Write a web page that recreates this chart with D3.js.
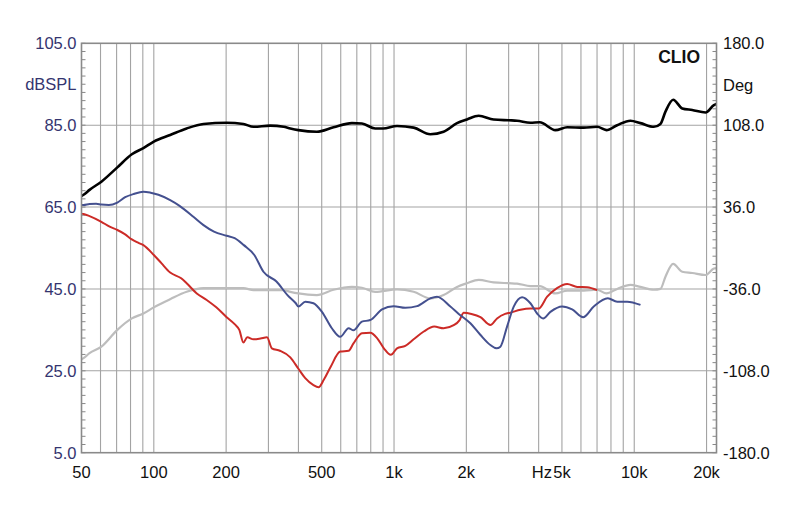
<!DOCTYPE html>
<html><head><meta charset="utf-8">
<script src="https://cdn.jsdelivr.net/npm/d3@7"></script>
<style>body{margin:0;background:#fff}svg{display:block}</style>
</head><body>
<svg id="c" width="800" height="511"></svg>
<script>
// ---- data ----
const blackHz = [50,51,54,60.5,70.5,81,90.5,100,117,137,161,201,236,260,305,347,370,400,477,560,668,735,835,900,1029,1207,1416,1608,1829,2013,2250,2598,3000,3253,3696,4040,4697,5260,6162,7010,7658,8492,9645,10616,12066,12853,13488,14520,15840,17434,19815,21456,22000];
const blackDb = [67.7,68.0,69.2,71.2,74.7,77.9,79.4,81.0,82.6,84.2,85.3,85.6,85.3,84.6,84.9,84.6,84.2,83.8,83.4,84.5,85.5,85.4,84.2,84.2,84.8,84.4,82.8,83.4,85.5,86.4,87.3,86.4,86.2,86.1,85.6,85.7,83.8,84.5,84.4,84.6,83.8,85.0,86.1,85.5,84.6,85.3,88.3,91.2,89.1,88.7,88.1,89.9,90.2];

const grayHz = [50,51,54,60.5,70.5,81,90.5,100,117,137,161,201,236,260,305,347,370,400,477,560,668,735,835,1029,1207,1416,1608,1829,2013,2250,2598,3000,3253,3696,4040,4697,5260,6162,7010,7658,8492,9645,10616,12066,12853,13488,14520,15840,17434,19815,21456,22000];
const grayDb = [27.8,28.1,29.3,30.9,35.0,37.8,39.0,40.5,42.5,44.3,45.2,45.2,45.2,44.7,44.7,44.7,44.3,43.9,43.5,44.8,45.5,45.3,44.3,44.9,44.3,42.7,43.5,45.5,46.4,47.2,46.6,46.4,46.3,45.7,45.7,43.9,44.6,44.6,44.8,43.9,45.0,46.0,45.5,44.8,45.0,48.0,51.1,49.2,48.9,48.4,50.0,50.1];

const blueHz = [50,51,54,57.5,60.5,65,70.5,76,82.5,90.5,97,104.5,117,128,147,161,178,201,217,237,262,286,324,360,390,400,427,462,501,551,597,647,678,735,796,891,996,1114,1247,1416,1510,1716,1859,2079,2286,2518,2670,2772,2955,3150,3413,3696,3940,4174,4477,5011,5514,6124,6783,7763,8492,9347,10616];
const blueDb = [65.5,65.5,65.75,65.8,65.6,65.5,66.1,67.4,68.2,68.75,68.5,68.0,66.7,65.3,62.5,60.6,59.0,58.0,57.4,55.7,53.3,49.2,46.8,43.5,41.5,40.7,41.9,41.5,39.4,35.4,33.3,35.4,34.9,37.0,37.4,40.0,40.8,40.4,40.8,42.7,43.1,40.7,38.9,36.6,33.8,31.3,30.5,30.9,35.8,40.7,43.0,41.5,39.0,37.8,39.4,40.7,40.0,38.1,40.7,42.7,41.9,41.9,41.1];

const redHz = [50,51,54,60.5,65.5,70.5,75.7,81,86,90.5,100,107.5,117,130,137,151,166,182,201,217,227,236,245,260,278,296,310,335,370,400,427,462,485,510,545,597,647,678,735,796,850,907,970,1029,1114,1207,1330,1470,1608,1780,1875,1950,2100,2290,2518,2685,2900,3050,3360,3696,4000,4340,4770,5260,5790,6370,7010];
const redDb = [63.4,63.3,62.8,61.4,60.2,59.4,58.4,57.1,56.3,55.7,53.3,51.3,49.0,47.6,46.4,43.9,42.3,40.5,38.1,36.4,35.0,31.9,33.2,32.7,32.9,33.2,30.5,29.9,28.3,25.5,23.2,21.5,21.0,22.8,26.0,29.7,29.9,31.7,34.2,34.3,33.0,30.5,28.9,30.5,31.1,32.7,34.6,35.8,35.4,36.2,37.4,39.2,38.9,38.1,36.2,37.8,38.9,39.2,39.9,40.2,40.2,43.1,45.2,46.2,45.5,45.4,44.7];

const leftTicks = [105, 85, 65, 45, 25, 5];
const leftLabels = ["105.0","85.0","65.0","45.0","25.0","5.0"];
const rightTicks = [180, 108, 36, -36, -108, -180];
const rightLabels = ["180.0","108.0","36.0","-36.0","-108.0","-180.0"];
const gridHz = [60,70,80,90,100,200,300,400,500,600,700,800,900,1000,2000,3000,4000,5000,6000,7000,8000,9000,10000,20000];
const xLabelHz = [50,100,200,500,1000,2000,5000,10000,20000];
const xLabels = ["50","100","200","500","1k","2k","5k","10k","20k"];

// ---- layout ----
const L = 81.5, R = 716.5, T = 43.3, B = 452.7;
const svg = d3.select("#c");
const x = d3.scaleLog().domain([50, 22000]).range([L, R]);
const y = d3.scaleLinear().domain([5, 105]).range([B, T]);
const yR = d3.scaleLinear().domain([-180, 180]).range([B, T]);
const font = "'Liberation Sans', Arial, sans-serif";
const navy = "#34346f";
const fs = 16.5;

const g = svg.append("g");
g.selectAll("line.vg").data(gridHz).join("line")
  .attr("x1", d => x(d)).attr("x2", d => x(d)).attr("y1", T).attr("y2", B)
  .attr("stroke", "#a3a3a3").attr("stroke-width", 1.1);
g.selectAll("line.hg").data(leftTicks.slice(1, -1)).join("line")
  .attr("x1", L).attr("x2", R).attr("y1", d => y(d)).attr("y2", d => y(d))
  .attr("stroke", "#a3a3a3").attr("stroke-width", 1.1);

const minor = d3.range(5, 105.01, 2);
g.selectAll("line.tl").data(minor).join("line")
  .attr("x1", L).attr("x2", L + 4).attr("y1", d => y(d)).attr("y2", d => y(d))
  .attr("stroke", "#888").attr("stroke-width", 1);
g.selectAll("line.tr").data(minor).join("line")
  .attr("x1", R - 4).attr("x2", R).attr("y1", d => y(d)).attr("y2", d => y(d))
  .attr("stroke", "#888").attr("stroke-width", 1);

const line = (hz, db) => d3.line().x((d, i) => x(hz[i])).y(d => y(d)).curve(d3.curveMonotoneX)(db);
const series = [
  {hz: grayHz, db: grayDb, c: "#bdbdbd", w: 2.2},
  {hz: redHz, db: redDb, c: "#cc2b27", w: 2},
  {hz: blueHz, db: blueDb, c: "#44508f", w: 2},
  {hz: blackHz, db: blackDb, c: "#000", w: 2.6}
];
series.forEach(s => {
  g.append("path").attr("d", line(s.hz, s.db)).attr("fill", "none")
    .attr("stroke", s.c).attr("stroke-width", s.w).attr("stroke-linejoin", "round");
});

g.append("rect").attr("x", L).attr("y", T).attr("width", R - L).attr("height", B - T)
  .attr("fill", "none").attr("stroke", "#8a8a8a").attr("stroke-width", 1.6);

svg.selectAll("text.yl").data(leftTicks).join("text")
  .attr("x", 76.5).attr("y", d => y(d)).attr("dy", "0.36em").attr("text-anchor", "end")
  .attr("font-family", font).attr("font-size", fs).attr("fill", navy)
  .text((d, i) => leftLabels[i]);
svg.append("text").attr("x", 76.5).attr("y", 84.5).attr("dy", "0.36em").attr("text-anchor", "end")
  .attr("font-family", font).attr("font-size", fs).attr("fill", navy).text("dBSPL");

svg.selectAll("text.yr").data(rightTicks).join("text")
  .attr("x", 723).attr("y", d => yR(d)).attr("dy", "0.36em").attr("text-anchor", "start")
  .attr("font-family", font).attr("font-size", fs).attr("fill", "#111")
  .text((d, i) => rightLabels[i]);
svg.append("text").attr("x", 723).attr("y", 85).attr("dy", "0.36em")
  .attr("font-family", font).attr("font-size", fs).attr("fill", "#111").text("Deg");

svg.selectAll("text.xl").data(xLabelHz).join("text")
  .attr("x", d => x(d)).attr("y", 472.5).attr("dy", "0.36em").attr("text-anchor", "middle")
  .attr("font-family", font).attr("font-size", fs).attr("fill", "#111")
  .text((d, i) => xLabels[i]);
svg.append("text").attr("x", x(5000) - 10).attr("y", 472.5).attr("dy", "0.36em").attr("text-anchor", "end")
  .attr("font-family", font).attr("font-size", fs).attr("fill", "#111").text("Hz");

svg.append("text").attr("x", 700).attr("y", 57).attr("dy", "0.36em").attr("text-anchor", "end")
  .attr("font-family", font).attr("font-size", 17.5).attr("font-weight", "bold").attr("fill", "#111").text("CLIO");
</script>
</body></html>
